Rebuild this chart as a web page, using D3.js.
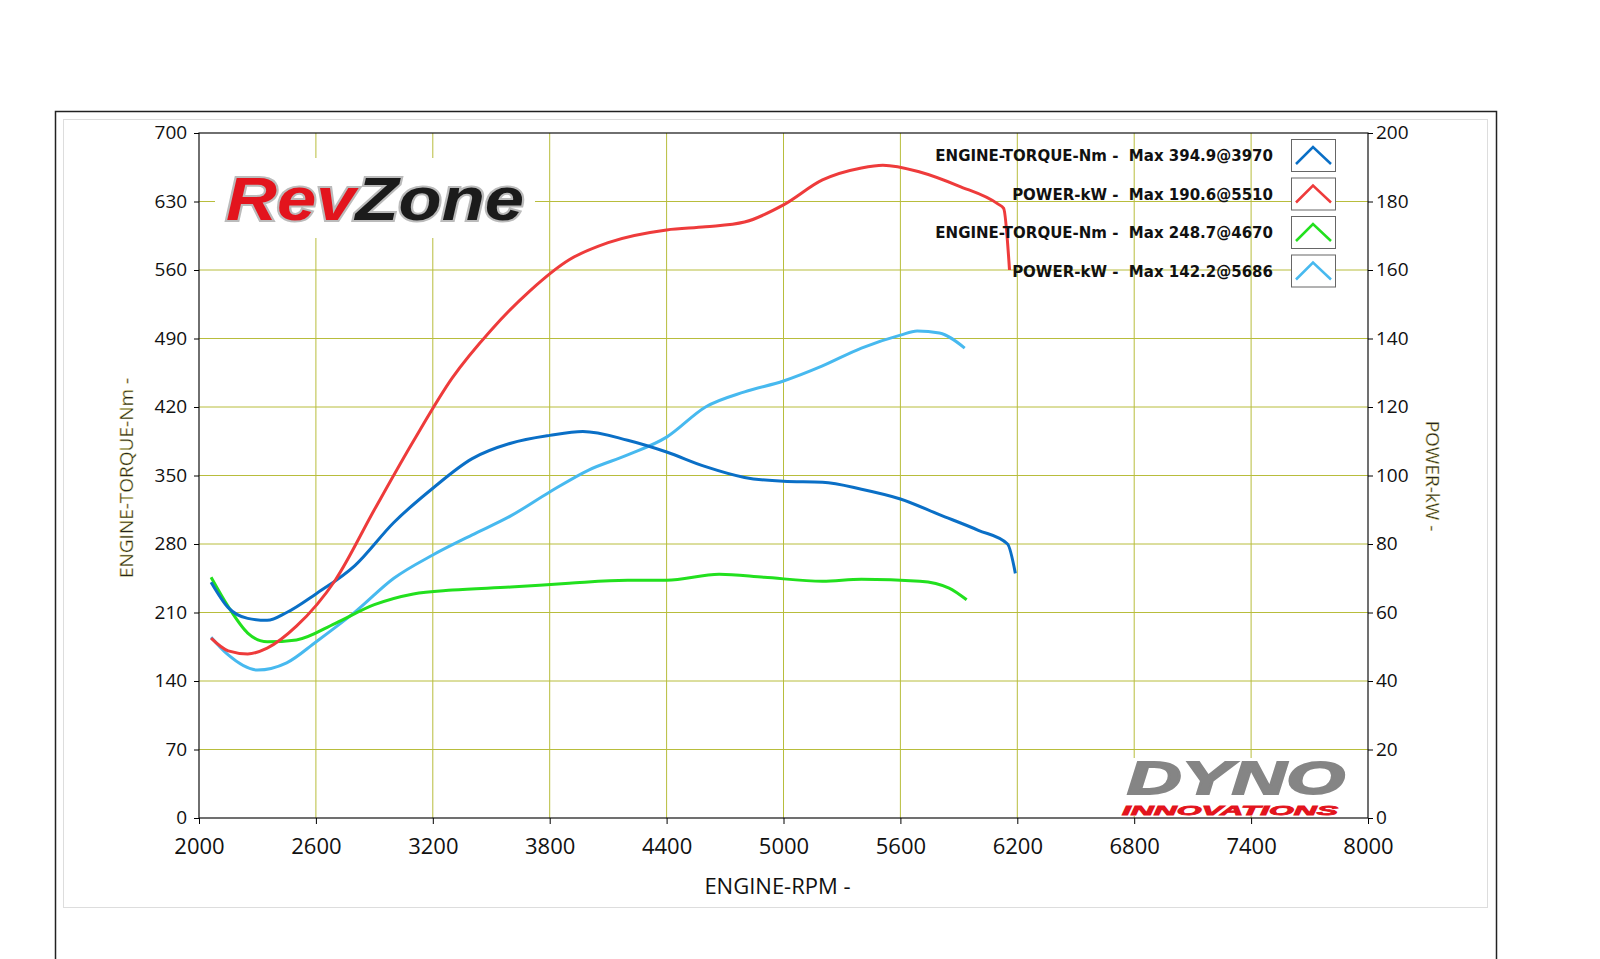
<!DOCTYPE html>
<html><head><meta charset="utf-8">
<script src="https://cdn.jsdelivr.net/npm/d3@7"></script>
<style>body{margin:0;background:#fff}</style></head>
<body><svg id="c" width="1600" height="959"></svg>
<script>
const xTicks=[2000,2600,3200,3800,4400,5000,5600,6200,6800,7400,8000];
const yLeftTicks=[0,70,140,210,280,350,420,490,560,630,700];
const yRightTicks=[0,20,40,60,80,100,120,140,160,180,200];
const torque1=[[2062,241],[2150,215],[2250,204],[2350,202],[2450,210],[2600,229],[2800,258],[3000,302],[3200,337],[3400,367],[3600,383],[3800,391],[3970,395],[4200,386],[4400,374],[4600,359],[4800,348],[5000,344],[5200,343],[5400,336],[5600,326],[5800,310],[6000,294],[6150,280],[6190,250]];
const power1=[[2062,52.5],[2150,48.8],[2250,47.9],[2350,49.6],[2500,56],[2700,69.5],[2900,90],[3100,110],[3300,128.5],[3500,142.5],[3700,154],[3900,163],[4100,168],[4400,171.7],[4600,172.6],[4800,174],[5000,179],[5200,186.3],[5400,189.8],[5510,190.6],[5700,188.6],[5900,184.5],[6100,179.3],[6130,178],[6160,160]];
const torque2=[[2062,246],[2150,216],[2250,189],[2350,180],[2500,182],[2700,199],[2900,218],[3100,229],[3300,233],[3600,236],[3900,240],[4200,243],[4400,243],[4670,249],[4900,246],[5200,242],[5400,244],[5700,242],[5850,235],[5940,223]];
const power2=[[2062,52.8],[2150,47.6],[2300,43.2],[2450,45.3],[2600,51.4],[2800,60.1],[3000,70],[3200,76.8],[3400,82.6],[3600,88.2],[3800,95.2],[4000,101.6],[4200,106],[4400,111.2],[4600,120],[4800,124.4],[5000,127.6],[5200,132],[5400,137.2],[5600,141],[5686,142.2],[5800,141.6],[5930,137.2]];
const legendLabels=["ENGINE-TORQUE-Nm -  Max 394.9@3970","POWER-kW -  Max 190.6@5510","ENGINE-TORQUE-Nm -  Max 248.7@4670","POWER-kW -  Max 142.2@5686"];
const colors=["#0a6fc6","#ee3b3b","#22e01e","#47b9ef"];

const svg=d3.select("#c");
const L=199,R=1368,T=133,B=818;
const x=d3.scaleLinear([2000,8000],[L,R]);
const yl=d3.scaleLinear([0,700],[B,T]);
const yr=d3.scaleLinear([0,200],[B,T]);
svg.append("rect").attr("x",55.5).attr("y",111.5).attr("width",1441).attr("height",900).attr("fill","none").attr("stroke","#222").attr("stroke-width",1.5);
svg.append("rect").attr("x",63.5).attr("y",119.5).attr("width",1424).attr("height",788).attr("fill","none").attr("stroke","#ddd");
const g=svg.append("g");
const grid="#b8bd3c";
g.selectAll(".vg").data(xTicks.slice(1,-1)).join("line").attr("x1",d=>x(d)).attr("x2",d=>x(d)).attr("y1",T).attr("y2",B).attr("stroke",grid).attr("stroke-width",1);
g.selectAll(".hg").data(yLeftTicks.slice(1,-1)).join("line").attr("y1",d=>yl(d)).attr("y2",d=>yl(d)).attr("x1",L).attr("x2",R).attr("stroke",grid).attr("stroke-width",1);
// logos
svg.append("rect").attr("x",215).attr("y",158).attr("width",320).attr("height",80).attr("fill","#fff");
const lg=svg.append("text").attr("x",226).attr("y",220).attr("font-family","Liberation Sans, Arial").attr("font-weight","bold").attr("font-style","italic").attr("font-size",62).attr("stroke","#bbb").attr("stroke-width",4).attr("paint-order","stroke").attr("textLength",298).attr("lengthAdjust","spacingAndGlyphs");
lg.append("tspan").attr("fill","#e3141d").text("Rev");
lg.append("tspan").attr("fill","#1b1b1b").text("Zone");
svg.append("rect").attr("x",1118).attr("y",758).attr("width",236).attr("height",58).attr("fill","#fff");
svg.append("text").attr("x",1236).attr("y",794).attr("text-anchor","middle").attr("font-family","Liberation Sans, Arial").attr("font-weight","bold").attr("font-style","italic").attr("font-size",46).attr("fill","#858585").attr("stroke","#858585").attr("stroke-width",1.8).attr("textLength",218).attr("lengthAdjust","spacingAndGlyphs").text("DYNO");
svg.append("text").attr("x",1230).attr("y",815).attr("text-anchor","middle").attr("font-family","Liberation Sans, Arial").attr("font-weight","bold").attr("font-style","italic").attr("font-size",13).attr("fill","#e3141d").attr("stroke","#e3141d").attr("stroke-width",0.8).attr("textLength",216).attr("lengthAdjust","spacingAndGlyphs").text("INNOVATIONS");
// frame
svg.append("rect").attr("x",L).attr("y",T).attr("width",R-L).attr("height",B-T).attr("fill","none").attr("stroke","#111").attr("stroke-width",1.2);
// axes
const fa="Open Sans, Noto Sans, sans-serif";
const ax=svg.append("g").attr("transform",`translate(0,${B})`).call(d3.axisBottom(x).tickValues(xTicks).tickSize(6).tickFormat(d3.format("d")));
ax.select(".domain").remove();
ax.selectAll("text").attr("font-size",22).attr("font-family",fa).attr("fill","#111").attr("y",18).attr("dy","0.8em");
const ayl=svg.append("g").attr("transform",`translate(${L},0)`).call(d3.axisLeft(yl).tickValues(yLeftTicks).tickSize(5));
ayl.select(".domain").remove();
ayl.selectAll("text").attr("font-size",19).attr("font-family",fa).attr("fill","#111").attr("dx","-0.2em").attr("dy","0.3em");
const ayr=svg.append("g").attr("transform",`translate(${R},0)`).call(d3.axisRight(yr).tickValues(yRightTicks).tickSize(5));
ayr.select(".domain").remove();
ayr.selectAll("text").attr("font-size",19).attr("font-family",fa).attr("fill","#111").attr("dy","0.3em");
svg.append("text").attr("x",(L+R)/2-6).attr("y",894).attr("text-anchor","middle").attr("font-size",22).attr("font-family",fa).attr("fill","#111").text("ENGINE-RPM -");
svg.append("text").attr("transform","translate(133,478) rotate(-90)").attr("text-anchor","middle").attr("font-size",19).attr("font-family",fa).attr("fill","#222").attr("stroke","#f0e890").attr("stroke-width",0.4).text("ENGINE-TORQUE-Nm -");
svg.append("text").attr("transform","translate(1426,476) rotate(90)").attr("text-anchor","middle").attr("font-size",19).attr("font-family",fa).attr("fill","#222").attr("stroke","#f0e890").attr("stroke-width",0.4).text("POWER-kW -");
// lines
const lineL=d3.line().x(d=>x(d[0])).y(d=>yl(d[1])).curve(d3.curveMonotoneX);
const lineR=d3.line().x(d=>x(d[0])).y(d=>yr(d[1])).curve(d3.curveMonotoneX);
[[power2,lineR,3],[torque2,lineL,2],[torque1,lineL,0],[power1,lineR,1]].forEach(([d,f,i])=>{
 svg.append("path").attr("d",f(d)).attr("fill","none").attr("stroke",colors[i]).attr("stroke-width",3);
});
// legend
legendLabels.forEach((t,i)=>{
 const cy=156+i*38.5;
 svg.append("text").attr("x",1273).attr("y",cy+5).attr("text-anchor","end").attr("font-family","DejaVu Sans, sans-serif").attr("font-weight","bold").attr("font-size",15).attr("fill","#111").attr("xml:space","preserve").style("white-space","pre").text(t);
 svg.append("rect").attr("x",1291.5).attr("y",cy-16.5).attr("width",44).attr("height",32).attr("fill","#fff").attr("stroke","#666");
 svg.append("path").attr("d",`M1296,${cy+8}L1313,${cy-9}L1331,${cy+8}`).attr("fill","none").attr("stroke",colors[i]).attr("stroke-width",2.5);
});
</script></body></html>
